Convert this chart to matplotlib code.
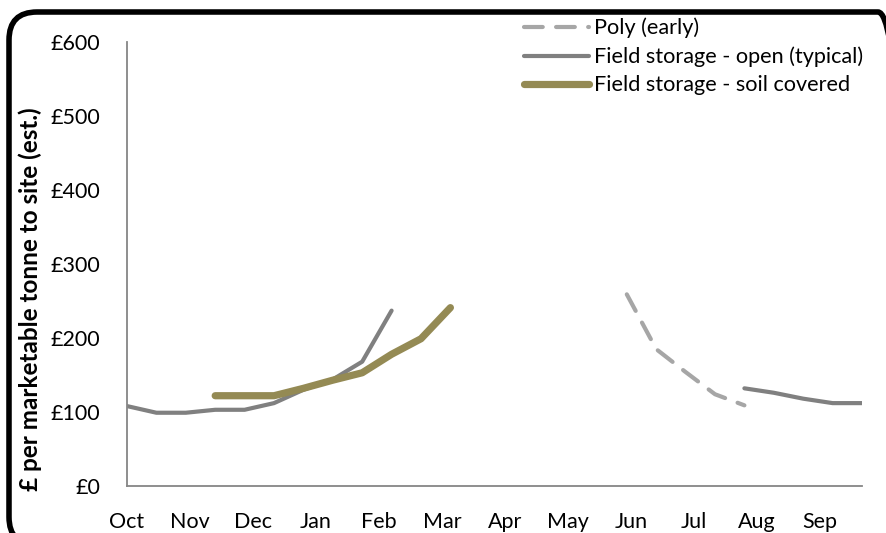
import matplotlib.pyplot as plt
from matplotlib.patches import FancyBboxPatch
from matplotlib.transforms import IdentityTransform

plt.rcParams['font.family'] = ['Lato', 'DejaVu Sans']

# fortnightly points through the season, day 0 = start of October
months = ['Oct', 'Nov', 'Dec', 'Jan', 'Feb', 'Mar', 'Apr', 'May', 'Jun', 'Jul', 'Aug', 'Sep']
open_early_idx = [0, 1, 2, 3, 4, 5, 6, 7, 8, 9]
open_early = [108, 99, 99, 103, 103, 112, 130, 144, 168, 237]
open_late_idx = [21, 22, 23, 24, 25]
open_late = [132, 126, 118, 112, 112]
covered_idx = [3, 4, 5, 6, 7, 8, 9, 10, 11]
covered = [122, 122, 122, 132, 143, 153, 178, 199, 241]
poly_idx = [17, 18, 19, 20, 21]
poly = [259, 185, 154, 124, 109]


def days(idx):
    return [i * 14 for i in idx]


fig = plt.figure(figsize=(8.86, 5.33), dpi=100)
ax = fig.add_axes([127 / 886, 1 - 486 / 533, 735 / 886, 444 / 533])

ax.plot(days(poly_idx), poly, color='#A6A6A6', lw=3, ls=(0, (4.5, 3.2)),
        dash_capstyle='round', label='Poly (early)')
ax.plot(days(open_early_idx), open_early, color='#808080', lw=3,
        solid_capstyle='round', label='Field storage - open (typical)')
ax.plot(days(open_late_idx), open_late, color='#808080', lw=3, solid_capstyle='round')
ax.plot(days(covered_idx), covered, color='#948A54', lw=5.2,
        solid_capstyle='round', label='Field storage - soil covered')

ax.set_xlim(0, 350)
ax.set_ylim(0, 600)
ax.set_xticks([30 * i for i in range(12)])
ax.set_xticklabels(months)
ax.set_yticks(range(0, 601, 100))
ax.set_yticklabels(['£%d' % v for v in range(0, 601, 100)])
ax.tick_params(length=0, labelsize=15.5, colors='black')
ax.tick_params(axis='y', pad=19.5)
ax.tick_params(axis='x', pad=19)
for side in ('top', 'right'):
    ax.spines[side].set_visible(False)
for side in ('left', 'bottom'):
    ax.spines[side].set_color('#868686')
    ax.spines[side].set_linewidth(1.3)

fig.text(30 / 886, 1 - 299 / 533, '£ per marketable tonne to site (est.)',
         rotation=90, ha='center', va='center', fontsize=17.5, fontweight='bold')

leg = fig.legend(loc='upper left', bbox_to_anchor=(515 / 886, 1 - 9 / 533),
                 frameon=False, fontsize=15.6, handlelength=3.0, handletextpad=0.23,
                 labelspacing=0.38, borderaxespad=0)

# rounded chart border in pixels, running just past the right and bottom edges
frame = FancyBboxPatch((9, -12), 897, 533,
                       boxstyle='round,pad=0,rounding_size=28',
                       transform=IdentityTransform(), fill=False, ec='black', lw=4)
fig.patches.append(frame)

fig.savefig('out.png', dpi=100)
